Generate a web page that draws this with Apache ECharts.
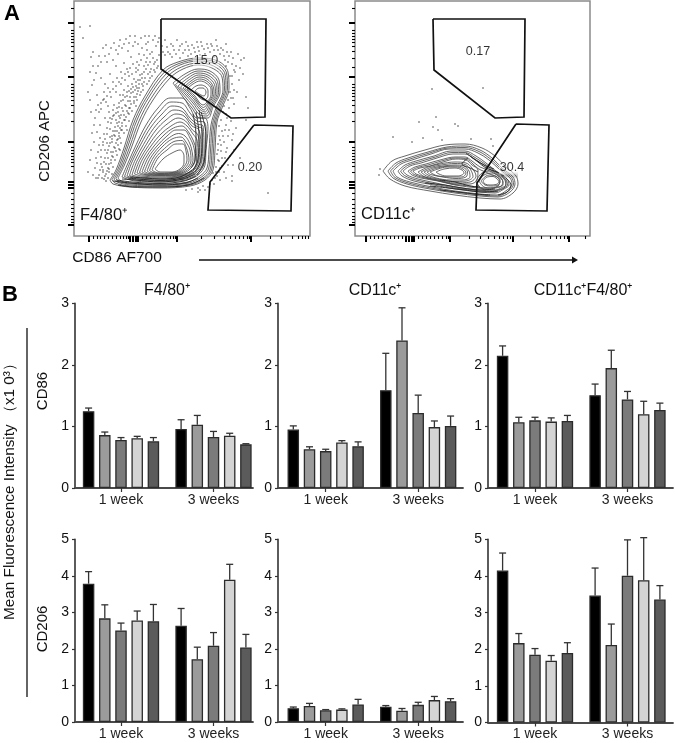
<!DOCTYPE html>
<html><head><meta charset="utf-8">
<script src="https://cdn.jsdelivr.net/npm/echarts@6/dist/echarts.min.js"></script>
<style>html,body{margin:0;padding:0;background:#fff}#c{width:675px;height:743px}</style>
</head><body><div id="c"></div>
<script>
// ---------- Bar panel data ----------
const weeks = ['1 week', '3 weeks'];
const groupPositions = [0, 1];
const barColors = ['#000000', '#9b9b9b', '#7b7b7b', '#d4d4d4', '#5b5b5b'];
// each: five series (rows), [1 week, 3 weeks]
const cd86F480 = [[1.25,0.96],[0.86,1.03],[0.78,0.83],[0.81,0.85],[0.76,0.71]];
const cd86F480Top = [[1.30,1.11],[0.91,1.18],[0.82,0.92],[0.84,0.89],[0.82,0.72]];
const cd86CD11c = [[0.95,1.59],[0.63,2.40],[0.60,1.22],[0.74,0.99],[0.68,1.01]];
const cd86CD11cTop = [[1.01,2.19],[0.67,2.93],[0.63,1.51],[0.77,1.09],[0.75,1.17]];
const cd86Double = [[2.15,1.51],[1.07,1.95],[1.10,1.44],[1.08,1.20],[1.09,1.27]];
const cd86DoubleTop = [[2.31,1.69],[1.15,2.24],[1.15,1.57],[1.14,1.41],[1.18,1.38]];
const cd206F480 = [[3.79,2.64],[2.84,1.72],[2.51,2.09],[2.78,3.90],[2.76,2.04]];
const cd206F480Top = [[4.12,3.11],[3.21,2.05],[2.71,2.45],[3.04,4.32],[3.22,2.40]];
const cd206CD11c = [[0.38,0.42],[0.44,0.31],[0.32,0.47],[0.34,0.60],[0.48,0.57]];
const cd206CD11cTop = [[0.41,0.45],[0.51,0.37],[0.34,0.54],[0.36,0.70],[0.62,0.64]];
const cd206Double = [[4.15,3.47],[2.17,2.12],[1.85,4.01],[1.69,3.89],[1.90,3.36]];
const cd206DoubleTop = [[4.63,4.22],[2.43,2.69],[2.02,4.99],[1.83,5.05],[2.18,3.74]];

// ---------- Flow plot A, left (channels) ----------
const leftGateTop = [[161,19],[266,19],[265,117],[231,118],[161,69],[161,19]];
const leftGateLow = [[254,125],[293,126],[291,211],[208,210],[210,182],[254,125]];
const leftContours = [
 [[110,180],[116,170],[124,148],[133,120],[145,96],[163,70],[178,62],[198,58],[218,61],[228,72],[229,88],[222,108],[217,122],[215,150],[213,170],[205,180],[190,186],[160,188],[130,187],[113,184]],
 [[112,179.5],[118,169],[126,147],[135,120],[147,96.5],[164.5,72],[179,63.5],[198,59.5],[216.5,62.5],[226.5,73],[227.5,88],[220.5,108],[215.5,123],[213.5,150],[211.5,170],[204,179],[190,185],[160,187],[130,186],[115,183]],
 [[114,179],[120,168],[128,146],[137,120],[149,97],[166,74],[180,65],[198,61],[215,64],[225,74],[226,88],[219,108],[214,124],[212,150],[210,170],[203,178],[190,184],[160,186],[130,185],[117,182]],
 [[116,178.5],[122,167],[130,146],[139,121],[151,98.5],[168,76],[181.5,67],[198,63],[213.5,66],[223.5,75.5],[224.5,89],[217.5,108],[212.5,124.5],[210.5,150],[208.5,169],[201.5,177],[189,183],[160,185],[130,184],[119,181.5]],
 [[118,178],[124,166],[132,146],[141,122],[153,100],[170,78],[183,69],[198,65],[212,68],[222,77],[223,90],[216,108],[211,125],[209,150],[207,168],[200,176],[188,182],[160,184],[130,183],[121,181]],
 [[173,83],[185,74],[198,69],[210,71],[219,80],[220,92],[213,107],[208,118],[200,118],[192,108],[183,97]],
 [[175.5,84.5],[186.5,76],[198,71],[209,73],[217.5,81.5],[218.5,92.5],[212,106],[207,116],[200,115],[192.5,105.5],[184,95.5]],
 [[178,86],[188,78],[198,73],[208,75],[216,83],[217,93],[211,105],[206,114],[200,112],[193,103],[185,94]],
 [[180.5,87],[189.5,79.5],[198.5,75],[207.5,77],[214.5,84.5],[215.5,93.5],[210,104],[205,112],[200,109.5],[193.5,101],[186.5,93.5]],
 [[183,88],[191,81],[199,77],[207,79],[213,86],[214,94],[209,103],[204,110],[200,107],[194,99],[188,93]],
 [[185,88.5],[192,82.5],[199.5,79],[206.5,81],[212,87.5],[212.5,94.5],[208,102.5],[203.5,107.5],[199.5,104.5],[194.5,97.5],[189.5,92.5]],
 [[187,89],[193,84],[200,81],[206,83],[211,89],[211,95],[207,102],[203,105],[199,102],[195,96]],
 [[191,90],[196,86],[201,85],[206,87],[208,91],[208,96],[204,100],[200,98],[196,94]],
 [[195,91],[199,88],[203,88],[206,92],[204,96],[201,95]],
 [[122,177],[128,163],[136,145],[146,125],[158,108],[170,98],[182,98],[190,108],[197,118],[205,118],[208,128],[206,150],[205,165],[198,175],[186,180],[160,182],[135,181]],
 [[124.5,176.5],[130,162.5],[138.5,144.5],[148.5,126],[160,111],[171,102],[182,103],[190,113],[197,121],[204,122],[206,128],[205,150],[204,164],[197,174],[185.5,179],[160,181],[136.5,180]],
 [[127,176],[132,162],[141,144],[151,127],[162,114],[172,106],[182,108],[190,118],[197,124],[203,126],[204,150],[203,163],[196,173],[185,178],[160,180],[138,179]],
 [[129.5,175.5],[134.5,161.5],[143.5,144.5],[153.5,128.5],[164,117],[174,110],[183,112],[191,122],[198,127],[202,128],[202.5,150],[201.5,162.5],[195,172.5],[184.5,177],[160,179],[139,178]],
 [[132,175],[137,161],[146,145],[156,130],[166,120],[176,114],[184,116],[192,126],[199,130],[201,150],[200,162],[194,172],[184,176],[160,178],[140,177]],
 [[134.5,174],[139.5,160.5],[148.5,145.5],[158.5,132],[168.5,123],[178,118],[185.5,121],[192.5,130],[198,135],[199.5,152],[198.5,162.5],[192.5,171.5],[183,175.5],[160,177],[141.5,176]],
 [[137,173],[142,160],[151,146],[161,134],[171,126],[180,122],[187,126],[193,134],[197,140],[198,155],[197,163],[191,171],[182,175],[160,176],[143,175]],
 [[139.5,172.5],[145,159],[154,146],[164,135],[173.5,128],[182,126],[188.5,132],[193.5,141],[196,150],[196.5,161],[193,170.5],[181,174.5],[160,175.5],[145,174.5]],
 [[142,172],[148,158],[157,146],[167,136],[176,130],[184,130],[190,138],[194,148],[195,160],[189,170],[180,174],[160,175],[147,174]],
 [[144.5,171.5],[150.5,158],[159.5,146.5],[169.5,137.5],[178.5,133.5],[185,136],[190,144],[192.5,154],[193,160.5],[187.5,169.5],[179,173.5],[160,174.5],[149,173.5]],
 [[147,171],[153,158],[162,147],[172,139],[181,137],[186,142],[190,150],[191,161],[186,169],[178,173],[160,174],[151,173]],
 [[149.5,170.5],[155.5,158],[164.5,148.5],[174,141.5],[182,140.5],[186,146.5],[188.5,155],[189,160.5],[184.5,168.5],[177,172.5],[160,173.5],[153,172.5]],
 [[152,170],[158,158],[167,150],[176,144],[183,144],[186,151],[187,160],[183,168],[176,172],[160,173],[155,172]],
 [[155,169],[163,159],[172,153],[180,150],[184,156],[184,163],[180,169],[172,172],[160,172]]
];
const leftDense = [
 [[113,181],[130,183],[160,185],[185,183],[198,178]],
 [[116,180],[132,182],[160,183.5],[184,181],[196,176]],
 [[122,179],[135,180],[160,182],[183,179],[195,174]],
 [[128,178],[138,179],[160,180.5],[182,178],[194,172]],
 [[118,185],[135,187],[160,187],[188,185],[204,178]],
 [[130,177],[145,178],[160,179],[180,177],[192,170]],
 [[196,112],[199,135],[198,160],[193,170]],
 [[199,110],[202,135],[201,160],[195,172]],
 [[193,114],[196,135],[195,160],[191,168]],
 [[201,112],[206,135],[204,162],[197,175]]
];
const leftDots = [
 [80,27],[83,38],[90,26],[91,57],[96,73],[93,52],[99,56],[103,48],[106,45],[107,62],[101,78],[105,84],[111,48],[114,43],[113,60],[116,66],[110,74],[118,54],[120,40],[122,48],[124,63],[121,72],[126,39],[128,51],[130,36],[131,57],[127,69],[133,46],[135,42],[137,62],[132,74],[139,54],[141,38],[142,48],[144,66],[146,44],[147,58],[149,36],[150,72],[152,52],[153,40],[155,62],[156,46],[157,68],[159,55],[159,38],[136,72],
 [92,85],[97,95],[104,92],[108,88],[113,82],[117,78],[121,84],[125,80],[129,76],[134,79],[138,70],[142,74],[146,69],[150,78],[154,70],[111,97],[116,92],[120,95],[124,90],[128,86],[132,84],[136,82],[140,80],[144,82],[114,105],[119,103],[123,100],[127,96],[131,93],[135,90],[139,88],[143,86],[106,102],[101,109],[109,112],[113,116],[118,112],[122,108],[126,106],[130,101],[134,97],[137,94],[141,92],
 [105,118],[111,123],[116,120],[120,118],[124,115],[127,111],[130,108],[134,103],[137,100],[100,125],[107,128],[113,131],[118,126],[122,123],[125,120],[129,114],[132,111],[136,106],[104,134],[110,137],[115,136],[119,133],[122,130],[126,126],[129,121],[112,142],[117,140],[120,138],[124,133],[127,130],[109,146],[114,147],[118,145],[121,143],[105,150],[111,152],[116,151],[119,149],[101,157],[108,158],[113,157],[117,155],[120,150],[106,164],[111,163],[115,160],[103,170],[109,169],[113,167],[99,175],[105,176],[109,172],[103,172],[108,178],[112,174],[101,164],[97,163],[120,128],[117,131],[119,122],[115,127],[112,136],[107,143],[103,142],[100,138],[97,132],[110,129],[113,110],[108,106],[103,100],[98,105],[95,118],
 [162,46],[165,40],[168,52],[171,44],[174,50],[177,40],[180,46],[183,53],[186,42],[189,50],[192,45],[195,52],[198,47],[201,42],[204,49],[207,44],[210,52],[212,46],[216,40],[218,50],[221,48],[224,56],[226,44],[228,62],[231,52],[233,58],[236,66],[238,54],[241,60],[243,74],[239,80],[235,72],[232,84],[237,92],[233,98],[230,92],[244,58],[165,55],[172,57],[180,58],[188,56],[200,55],[214,57],[226,66],[230,76],[234,104],[228,100],[240,68],[246,97],[248,108],[224,106],[246,120],
 [221,120],[226,125],[231,121],[236,128],[222,131],[228,136],[219,136],[232,140],[224,142],[218,144],[227,148],[221,151],[234,150],[217,154],[225,158],[230,156],[219,161],[222,166],[216,167],[228,165],[213,173],[219,172],[224,172],[233,165],[240,158],[215,178],[210,184],[203,186],[198,188],[212,180],[226,178],[232,176],[205,190],[198,192],[268,193],[232,181],
 // dense band hugging the left edge of the population
 [155,72],[158,66],[152,76],[149,81],[147,84],[143,90],[140,95],[138,91],[136,97],[134,101],[131,104],[129,108],[128,113],[126,117],[124,120],[122,126],[121,130],[119,136],[118,139],[116,143],[115,148],[113,152],[112,156],[111,160],[109,164],[108,168],[107,171],[106,174],[104,179],
 [154,64],[151,69],[148,74],[145,78],[142,84],[139,84],[137,88],[133,92],[130,97],[128,101],[125,105],[123,111],[121,115],[119,116],[117,123],[115,131],[114,135],[112,139],[110,143],[108,150],[107,153],[105,158],[104,162],[102,167],[100,170],[98,178],[102,178],[106,181],
 [157,60],[153,58],[150,62],[148,65],[146,62],[144,72],[142,78],[140,75],[138,80],[136,86],[133,87],[131,89],[129,91],[127,92],[125,97],[123,95],[121,101],[119,107],[117,108],[116,113],[114,115],[112,119],[110,118],[108,122],[107,134],[105,139],[103,145],[101,150],[99,145],[98,152],[96,158],[95,168],[93,175],[96,178],
 [150,54],[147,50],[144,55],[141,60],[139,65],[136,68],[133,64],[130,68],[128,72],[125,74],[122,78],[119,82],[116,86],[113,89],[110,92],[107,96],[104,99],[101,103],[99,112],[96,110],[94,125],[92,133],[94,142],[91,150],[90,160],[88,172],
 [158,42],[155,36],[148,42],[145,36],[138,44],[135,36],[129,43],[124,44],[119,46],[116,50],[109,54],[105,56],[101,62],[98,66],[93,66],[90,72],[94,80],[88,92],[90,100],[91,112],
 [163,52],[167,47],[170,54],[173,46],[176,54],[179,50],[182,44],[185,50],[188,46],[191,54],[194,48],[197,42],[199,51],[202,46],[205,54],[208,48],[211,44],[214,50],[217,46],[220,54],[223,50],[225,60],[227,52],[229,56],[232,64],[234,70],[232,76],[234,90],[231,98],[229,108],[226,114],[223,112],[227,118],
 [219,126],[220,140],[218,150],[218,160],[220,168],[216,172],[217,176],[222,158],[223,136],[221,145],[225,130],[229,130],[233,134],[226,152],[214,184],[208,187],[220,180],[200,190],[192,189],[186,190]
];
// ---------- Flow plot A, right (channels) ----------
const rightGateTop = [[433,19],[525,19],[524,117],[495,118],[434,70],[433,19]];
const rightGateLow = [[516,124],[549,125],[547,211],[476,210],[477,183],[516,124]];
const rightContours = [
 [[383,171],[392,161],[405,156],[425,150],[445,145],[465,144],[482,148],[495,156],[505,166],[516,176],[518,184],[513,193],[500,199],[480,198],[455,195],[430,191],[405,186],[390,179]],
 [[388,171],[396,163],[408,158],[428,152],[447,147],[465,146],[480,150],[492,158],[502,168],[513,177],[515,184],[510,192],[498,197],[480,196],[455,193],[430,189],[407,184],[393,178]],
 [[390.5,171],[398.5,163.5],[410,159],[429.5,153],[448,148],[465,147.5],[479,151.5],[490.5,159],[500.5,168.5],[511.5,177.5],[513.5,184],[508.5,191],[497.5,196],[480,195],[455,192],[431,188],[408.5,183],[395,177.5]],
 [[393,171],[401,164],[412,160],[431,154],[449,149],[465,149],[478,153],[489,160],[499,169],[510,178],[512,184],[507,190],[497,195],[480,194],[455,191],[432,187],[410,182],[397,177]],
 [[398,171],[405,165],[416,161],[434,156],[451,151],[465,151],[476,156],[486,163],[496,171],[507,179],[509,185],[504,189],[495,193],[480,192],[455,189],[434,185],[414,181],[402,176]],
 [[400.5,171],[407.5,165.5],[418.5,162],[435.5,157],[452,152.5],[465,152.5],[475,157.5],[485,164],[495,171.5],[505.5,179],[507.5,185],[502.5,188.5],[494,192],[480,191],[455,188],[435,184],[416,180],[404.5,175.5]],
 [[403,171],[410,166],[421,163],[437,158],[453,154],[465,154],[474,159],[484,165],[494,172],[504,179],[506,185],[501,188],[493,191],[480,190],[455,187],[436,183],[418,179],[407,175]],
 [[408,171],[415,167],[426,164],[440,160],[455,157],[465,157],[472,161],[480,167],[490,171],[502,179],[503,185],[497,187],[490,189],[478,188],[455,185],[438,181],[421,178],[412,175]],
 [[410.5,171],[417.5,167.5],[428,165],[441.5,161],[455.5,158],[465.5,158.5],[472,163],[478,168.5],[490,174],[500,180],[498,186],[488,188],[470,186],[455,184.5],[439,181],[423,177.5],[414,174.5]],
 [[413,171],[420,168],[430,166],[443,162],[456,159],[466,160],[472,165],[478,170],[477,180],[470,184],[455,184],[440,181],[425,177],[416,174]],
 [[418,172],[428,167],[440,164],[455,162],[466,163],[472,168],[476,176],[470,182],[455,183],[438,180],[425,177]],
 [[421,172],[430.5,167.5],[441.5,165],[455,163.5],[465,164.5],[470.5,169.5],[473,176.5],[466,181],[452.5,181.5],[437,179],[426.5,176]],
 [[424,172],[433,168],[443,166],[455,165],[464,166],[469,171],[470,177],[462,180],[450,180],[436,178],[428,175]],
 [[427,172],[435.5,168.5],[445,166.5],[455.5,166],[463.5,167.5],[467.5,172],[466,177],[456,178.5],[443,177],[430.5,174.5]],
 [[430,172],[438,169],[447,167],[456,167],[463,169],[466,173],[462,177],[450,177],[438,176],[433,174]],
 [[436,172],[444,169],[455,168],[462,170],[464,173],[458,176],[446,176],[439,174]],
 [[476,181],[482,173],[492,171],[500,174],[506,182],[503,189],[492,190],[482,189]],
 [[479,181],[484,175],[492,173],[498,176],[503,182],[500,187],[492,188],[484,187]],
 [[481,181],[486,176],[492,175],[497,177],[500,182],[498,185],[492,186],[485,185]],
 [[483,181],[487,177],[493,176.5],[497,179],[499,182],[496,184.5],[490,185],[485,184]]
];
const rightDense = [
 [[425,183],[445,185],[462,188],[480,190],[495,189]],
 [[430,186],[448,188],[465,190],[482,192],[498,191]],
 [[440,180],[455,182],[470,186],[480,187]],
 [[440,190],[458,192],[475,194],[490,195]],
 [[470,156],[478,162],[486,168],[497,172],[504,176]],
 [[466,153],[476,160],[484,165],[494,169]],
 [[478,172],[470,168],[462,164],[468,158]],
 [[506,178],[511,185],[507,192],[498,195]]
];
const rightShade = [[501,175],[518,175]];
const rightDots = [[432,89],[483,88],[419,122],[436,117],[433,127],[438,130],[455,124],[458,126],[393,137],[412,142],[423,138],[442,140],[471,139],[491,139],[493,146],[380,169],[379,175]];

// ---------- Flow axis ticks ----------
const leftXMajor = [89,130,133,136,138,177,251];
const leftXMinor = [93,97,100,104,108,112,116,120,123,126,128,142,146,150,154,158,162,166,170,173,175,201,214,224,230,235,239,243,247,249,270,281,292,298,302,305,308];
const rightXMajor = [366,406,409,412,414,450,513,569];
const rightXMinor = [370,374,378,382,386,390,394,398,402,418,422,426,430,434,438,442,446,448,469,480,488,494,499,503,507,510,530,541,550,556,560,564,567,585];
const yMajor = [23,77,142,182,185,188,225];
const yMinor = [8,30,33,36,39,42,46,51,58,67,84,87,90,93,96,100,105,112,121,147,150,153,156,159,162,166,172,193,199,204,208,212,216,219,222];

// ---------- Build ----------
const FONT = 'Liberation Sans, Arial, sans-serif';
const grids = [], xAxes = [], yAxes = [], series = [];
const BAR_W = 11.5, BAR_STEP = 16.2;

function addBarPanel(left, top, width, height, xMin, xMax, yMax, vals, tops) {
  const g = grids.length;
  grids.push({left, top, width, height, containLabel:false});
  xAxes.push({gridIndex:g, type:'value', min:xMin, max:xMax, splitLine:{show:false},
    axisLine:{show:true, onZero:false, lineStyle:{color:'#4a4a4a', width:1.8}},
    axisTick:{show:true, customValues:groupPositions, length:4, lineStyle:{color:'#333', width:1.2}},
    axisLabel:{show:true, customValues:groupPositions, formatter:v=>weeks[Math.round(v)], color:'#222', fontSize:14, fontFamily:FONT, margin:5, hideOverlap:false}
  });
  yAxes.push({gridIndex:g, type:'value', min:0, max:yMax, interval:1, splitLine:{show:false},
    axisLine:{show:true, onZero:false, lineStyle:{color:'#4a4a4a', width:1.8}},
    axisTick:{show:true, length:3, lineStyle:{color:'#333', width:1.2}},
    axisLabel:{color:'#111', fontSize:14, fontFamily:FONT, margin:6}
  });
  vals.forEach((row, i) => {
    series.push({type:'bar', xAxisIndex:g, yAxisIndex:g, barWidth:BAR_W, barGap:((BAR_STEP-BAR_W)/BAR_W*100)+'%',
      silent:true, animation:false,
      itemStyle:{color:barColors[i], borderColor:'#2b2b2b', borderWidth:1.3},
      data:row.map((v,k)=>[groupPositions[k], v])});
  });
  vals.forEach((row, i) => {
    series.push({type:'custom', xAxisIndex:g, yAxisIndex:g, silent:true, animation:false, clip:false, z:1,
      encode:{x:0,y:[1,2]},
      data:row.map((v,k)=>[groupPositions[k], v, tops[i][k]]),
      renderItem(params, api){
        const a = api.coord([api.value(0), api.value(1)]);
        const b = api.coord([api.value(0), api.value(2)]);
        const x = a[0] + (i-2)*BAR_STEP;
        const st = {stroke:'#333', lineWidth:1.3, fill:null};
        return {type:'group', children:[
          {type:'line', shape:{x1:x,y1:a[1],x2:x,y2:b[1]}, style:st},
          {type:'line', shape:{x1:x-3.5,y1:b[1],x2:x+3.5,y2:b[1]}, style:st}
        ]};
      }});
  });
}
const R1T=303.5,R1H=184.5,R2T=539.5,R2H=182.5;
addBarPanel(75,R1T,178,R1H,(75-121)/92.5,(253-121)/92.5,3,cd86F480,cd86F480Top);
addBarPanel(278,R1T,185,R1H,(278-325.7)/92.5,(463-325.7)/92.5,3,cd86CD11c,cd86CD11cTop);
addBarPanel(488,R1T,185,R1H,(488-535)/92.5,(673-535)/92.5,3,cd86Double,cd86DoubleTop);
addBarPanel(75,R2T,178,R2H,(75-121)/92.5,(253-121)/92.5,5,cd206F480,cd206F480Top);
addBarPanel(278,R2T,185,R2H,(278-325.7)/92.5,(463-325.7)/92.5,5,cd206CD11c,cd206CD11cTop);
addBarPanel(488,R2T,185,R2H+0.5,(488-535)/92.5,(673-535)/92.5,5,cd206Double,cd206DoubleTop);

function addFlow(left, right, contours, dense, dots, gates, labels, xMajor, xMinor) {
  const g = grids.length;
  grids.push({left, top:1, width:right-left, height:235, show:true, borderColor:'#8a8a8a', borderWidth:1.5, backgroundColor:'#fff'});
  const xIdx = xAxes.length, yIdx = yAxes.length;
  const xa = (vals,len,w)=>({gridIndex:g, type:'value', min:left, max:right, position:'bottom', splitLine:{show:false},
    axisLine:{show:false}, axisLabel:{show:false},
    axisTick:{show:true, customValues:vals, length:len, lineStyle:{color:'#000', width:w}}});
  const ya = (vals,len,w)=>({gridIndex:g, type:'value', min:1, max:236, inverse:true, position:'left', splitLine:{show:false},
    axisLine:{show:false}, axisLabel:{show:false},
    axisTick:{show:true, customValues:vals, length:len, lineStyle:{color:'#000', width:w}}});
  xAxes.push(xa(xMajor,6,2), xa(xMinor,3,1.1));
  yAxes.push(ya(yMajor,6,2), ya(yMinor,3,1.1));
  const base = {xAxisIndex:xIdx, yAxisIndex:yIdx, silent:true, animation:false};
  series.push({...base, type:'scatter', symbolSize:1.5, itemStyle:{color:'#000'}, data:dots});
  contours.forEach(c => series.push({...base, type:'line', symbol:'none', smooth:0.35,
    lineStyle:{color:'#4d4d4d', width:0.85}, data:c.concat([c[0]])}));
  dense.forEach(c => series.push({...base, type:'line', symbol:'none', smooth:0.35,
    lineStyle:{color:'#222', width:0.9}, data:c}));
  gates.forEach(c => series.push({...base, type:'line', symbol:'none', z:5,
    lineStyle:{color:'#111', width:1.7, join:'miter'}, data:c}));
  series.push({...base, type:'scatter', symbolSize:0, z:6,
    label:{show:true, position:'inside', formatter:p=>p.value[2], color:'#000', fontSize:12.5, fontFamily:FONT, backgroundColor:'rgba(255,255,255,0.65)', padding:[0,1]},
    data:labels});
  return base;
}
const leftBase = addFlow(74,310,leftContours,leftDense,leftDots,[leftGateTop,leftGateLow],[[206,61,'15.0'],[250,168,'0.20']],leftXMajor,leftXMinor);
const rightBase = addFlow(355,590,rightContours,rightDense,rightDots,[rightGateTop,rightGateLow],[[478,52,'0.17'],[512,168,'30.4']],rightXMajor,rightXMinor);
series.push({...rightBase, type:'line', symbol:'none', z:1, lineStyle:{color:'#cfcfcf', width:5}, data:rightShade});

const txt = (x,y,text,opt={}) => ({type:'text', x, y, rotation:opt.rot||0, z:20, silent:true,
  style:{text, fill:opt.fill||'#111', font:`${opt.weight||'normal'} ${opt.size||14}px ${FONT}`, align:opt.align||'center', verticalAlign:'middle'}});
const ROT = Math.PI/2;
const graphic = [
  txt(12,14,'A',{size:22,weight:'bold',fill:'#000'}),
  txt(10,295,'B',{size:22,weight:'bold',fill:'#000'}),
  txt(45,141,'CD206 APC',{rot:ROT,size:15}),
  txt(117,258,'CD86 AF700',{size:15.5}),
  txt(80,215,'F4/80\u207A',{size:16.5,align:'left'}),
  txt(361,214,'CD11c\u207A',{size:16.5,align:'left'}),
  txt(167,291,'F4/80\u207A',{size:16}),
  txt(375,291,'CD11c\u207A',{size:16}),
  txt(583,291,'CD11c\u207AF4/80\u207A',{size:16}),
  txt(43,391,'CD86',{rot:ROT,size:15}),
  txt(43,629,'CD206',{rot:ROT,size:15}),
  txt(10,488,'Mean Fluorescence Intensity \uFF08x1 0\u00B3\uFF09',{rot:ROT,size:15.3}),
  {type:'line', silent:true, shape:{x1:27,y1:328,x2:27,y2:697}, style:{stroke:'#111',lineWidth:1.3}},
  {type:'line', silent:true, shape:{x1:199,y1:260,x2:574,y2:260}, style:{stroke:'#111',lineWidth:1.3}},
  {type:'polygon', silent:true, shape:{points:[[572,256.5],[578,260],[572,263.5]]}, style:{fill:'#111'}}
];

const chart = echarts.init(document.getElementById('c'), null, {renderer:'canvas'});
chart.setOption({animation:false, backgroundColor:'#fff', tooltip:{show:false}, legend:{show:false},
  grid:grids, xAxis:xAxes, yAxis:yAxes, series, graphic});
</script></body></html>
